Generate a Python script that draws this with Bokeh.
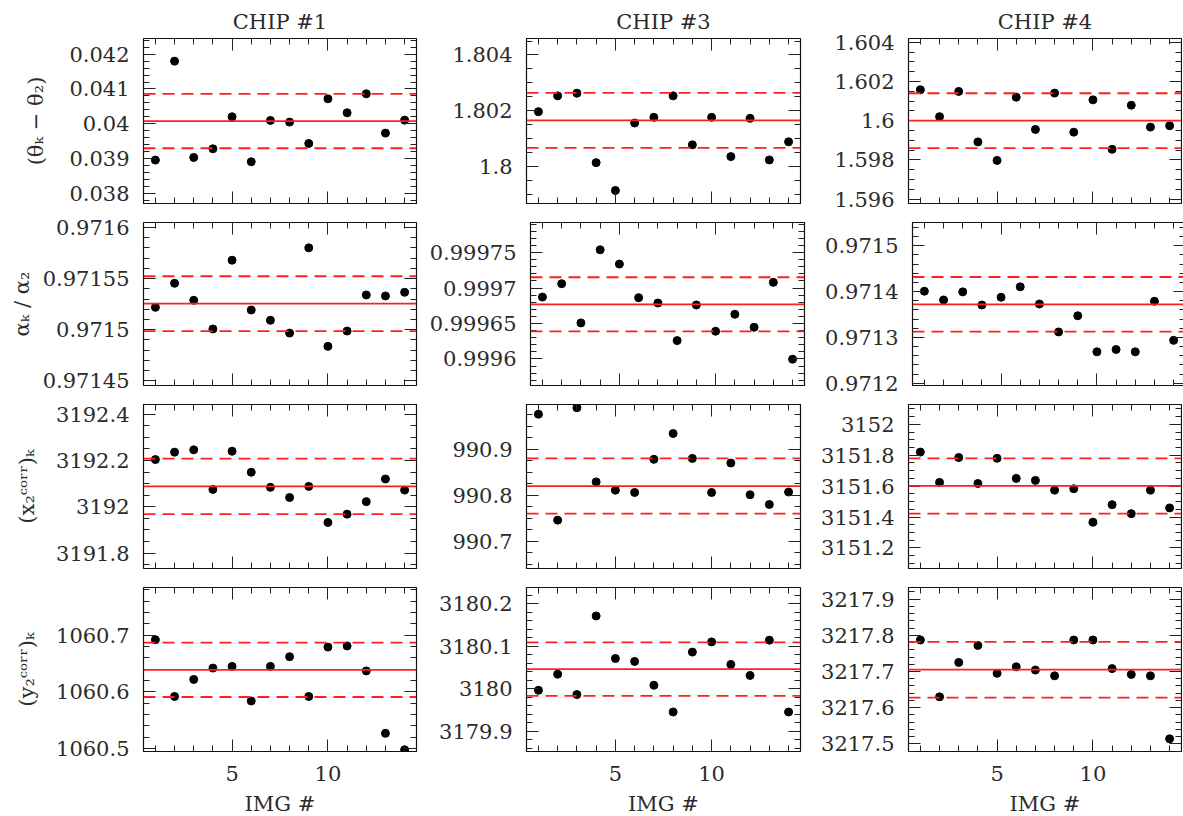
from bokeh.plotting import figure
from bokeh.layouts import column, row
from bokeh.models import (Range1d, Span, SingleIntervalTicker, FixedTicker,
                          CustomJSTickFormatter, LinearAxis)
from bokeh.embed import file_html
from bokeh.resources import INLINE

# ---------------------------------------------------------------- data
img = list(range(1, 15))
chips = ["CHIP #1", "CHIP #3", "CHIP #4"]
quantities = ["(θₖ − θ₂)", "αₖ / α₂", "(x₂ᶜᵒʳʳ)ₖ", "(y₂ᶜᵒʳʳ)ₖ"]

theta_chip1 = [0.038957, 0.041800, 0.039033, 0.039282, 0.040201, 0.038909, 0.040096,
               0.040048, 0.039435, 0.040718, 0.040316, 0.040861, 0.039732, 0.040105]
theta_chip3 = [1.801970, 1.802535, 1.802631, 1.800144, 1.799147, 1.801562, 1.801766,
               1.802535, 1.800781, 1.801766, 1.800360, 1.801730, 1.800240, 1.800889]
theta_chip4 = [1.601578, 1.600206, 1.601492, 1.598919, 1.597976, 1.601201, 1.599554,
               1.601407, 1.599417, 1.601063, 1.598542, 1.600789, 1.599674, 1.599743]

alpha_chip1 = [0.9715219, 0.9715454, 0.9715288, 0.9715007, 0.9715680, 0.9715193, 0.9715092,
               0.9714967, 0.9715801, 0.9714837, 0.9714987, 0.9715340, 0.9715330, 0.9715366]
alpha_chip3 = [0.9996873, 0.9997061, 0.9996508, 0.9997539, 0.9997338, 0.9996864, 0.9996789,
               0.9996259, 0.9996761, 0.9996391, 0.9996630, 0.9996447, 0.9997080, 0.9995997]
alpha_chip4 = [0.9714007, 0.9713816, 0.9713993, 0.9713706, 0.9713875, 0.9714103, 0.9713728,
               0.9713118, 0.9713471, 0.9712684, 0.9712735, 0.9712684, 0.9713787, 0.9712934]

xcorr_chip1 = [3192.204, 3192.236, 3192.246, 3192.075, 3192.240, 3192.149, 3192.084,
               3192.040, 3192.088, 3191.932, 3191.968, 3192.022, 3192.120, 3192.072]
xcorr_chip3 = [990.976, 990.746, 990.990, 990.829, 990.811, 990.806, 990.878,
               990.934, 990.880, 990.806, 990.870, 990.801, 990.780, 990.807]
xcorr_chip4 = [3151.820, 3151.624, 3151.785, 3151.617, 3151.780, 3151.650, 3151.637,
               3151.574, 3151.583, 3151.367, 3151.480, 3151.422, 3151.574, 3151.459]

ycorr_chip1 = [1060.692, 1060.592, 1060.622, 1060.642, 1060.645, 1060.584, 1060.645,
               1060.662, 1060.592, 1060.679, 1060.681, 1060.637, 1060.527, 1060.498]
ycorr_chip3 = [3179.996, 3180.034, 3179.986, 3180.171, 3180.071, 3180.064, 3180.008,
               3179.945, 3180.086, 3180.110, 3180.057, 3180.031, 3180.114, 3179.945]
ycorr_chip4 = [3217.787, 3217.630, 3217.725, 3217.772, 3217.695, 3217.713, 3217.704,
               3217.688, 3217.787, 3217.787, 3217.708, 3217.692, 3217.688, 3217.514]

# clipped mean and 1-sigma band for every chip
theta_mean = [0.040077, 1.801658, 1.600000]
theta_sigma = [0.000780, 0.000985, 0.001400]
alpha_mean = [0.9715255, 0.9996770, 0.9713721]
alpha_sigma = [0.0000268, 0.0000382, 0.0000596]
xcorr_mean = [3192.088, 990.820, 3151.601]
xcorr_sigma = [0.120, 0.060, 0.179]
ycorr_mean = [1060.639, 3180.046, 3217.705]
ycorr_sigma = [0.048, 0.063, 0.077]

series = [
    [theta_chip1, theta_chip3, theta_chip4],
    [alpha_chip1, alpha_chip3, alpha_chip4],
    [xcorr_chip1, xcorr_chip3, xcorr_chip4],
    [ycorr_chip1, ycorr_chip3, ycorr_chip4],
]
means = [theta_mean, alpha_mean, xcorr_mean, ycorr_mean]
sigmas = [theta_sigma, alpha_sigma, xcorr_sigma, ycorr_sigma]

# ---------------------------------------------------------------- axes setup
y_limits = [
    [(0.03771, 0.04245), (1.79868, 1.80459), (1.59578, 1.60419)],
    [(0.9714454, 0.9716049), (0.9995626, 0.9997924), (0.9711949, 0.9715507)],
    [(3191.733, 3192.442), (990.641, 990.997), (3151.067, 3152.128)],
    [(1060.495, 1060.784), (3179.852, 3180.238), (3217.479, 3217.932)],
]
y_steps = [
    [(0.001, 5), (0.002, 4), (0.002, 4)],
    [(0.00005, 5), (0.00005, 5), (0.0001, 5)],
    [(0.2, 4), (0.1, 4), (0.2, 4)],
    [(0.1, 5), (0.1, 5), (0.1, 5)],
]
label_standoff = [18, 6, 14, 14]

col_left = [143, 100, 100]
col_right = [10, 8, 1]
frame_w = [273, 274, 273]
row_top = [38, 7, 7, 7]
row_bottom = [12, 12, 12, 64]
frame_h = [165, 163, 164, 164]

FONT = "DejaVu Serif"
TXT = "#2b2b2b"
RED = "#ff1f1f"

num_fmt = CustomJSTickFormatter(code="return parseFloat(tick.toFixed(6)).toString();")
blank_fmt = CustomJSTickFormatter(code="return '';")


def style_axis(ax, labelled):
    ax.axis_line_color = None
    ax.major_tick_in = 12
    ax.major_tick_out = 0
    ax.minor_tick_in = 6
    ax.minor_tick_out = 0
    ax.major_tick_line_color = "#222222"
    ax.minor_tick_line_color = "#222222"
    ax.major_tick_line_width = 1
    ax.minor_tick_line_width = 1
    if labelled:
        ax.formatter = num_fmt
        ax.major_label_text_font = FONT
        ax.major_label_text_font_size = "21px"
        ax.major_label_text_color = TXT
        ax.major_label_standoff = 14
    else:
        ax.formatter = blank_fmt
        ax.major_label_text_font_size = "1px"
        ax.major_label_standoff = 0


rows = []
for r in range(4):
    figs = []
    for c in range(3):
        lo, hi = y_limits[r][c]
        step, nminor = y_steps[r][c]
        p = figure(
            frame_width=frame_w[c], frame_height=frame_h[r],
            min_border_left=col_left[c], min_border_right=col_right[c],
            min_border_top=row_top[r], min_border_bottom=row_bottom[r],
            x_range=Range1d(0.38, 14.62), y_range=Range1d(lo, hi),
            output_backend="svg", toolbar_location=None, tools="",
        )
        p.grid.visible = False
        p.outline_line_color = "#111111"
        p.outline_line_width = 1.2
        p.background_fill_color = "white"
        p.border_fill_color = "white"

        yt = SingleIntervalTicker(interval=step, num_minor_ticks=nminor)
        xt = FixedTicker(ticks=[0, 5, 10, 15], minor_ticks=img)

        left = p.yaxis[0]
        left.ticker = yt
        style_axis(left, True)
        if c == 0:
            left.axis_label = quantities[r]
            left.axis_label_text_font = FONT
            left.axis_label_text_font_size = "21px"
            left.axis_label_text_font_style = "normal"
            left.axis_label_text_color = TXT
            left.axis_label_standoff = label_standoff[r]

        bottom = p.xaxis[0]
        bottom.ticker = xt
        style_axis(bottom, r == 3)
        if r == 3:
            bottom.axis_label = "IMG #"
            bottom.axis_label_text_font = FONT
            bottom.axis_label_text_font_size = "21px"
            bottom.axis_label_text_font_style = "normal"
            bottom.axis_label_text_color = TXT
            bottom.axis_label_standoff = 8

        right = LinearAxis(ticker=yt)
        style_axis(right, False)
        p.add_layout(right, "right")
        top = LinearAxis(ticker=xt)
        style_axis(top, False)
        p.add_layout(top, "above")

        if r == 0:
            p.title.text = chips[c]
            p.title.align = "center"
            p.title.text_font = FONT
            p.title.text_font_size = "21px"
            p.title.text_font_style = "normal"
            p.title.text_color = TXT

        m = means[r][c]
        s = sigmas[r][c]
        p.add_layout(Span(location=m, dimension="width", line_color=RED, line_width=1.8))
        p.add_layout(Span(location=m + s, dimension="width", line_color=RED,
                          line_width=1.8, line_dash="12 7"))
        p.add_layout(Span(location=m - s, dimension="width", line_color=RED,
                          line_width=1.8, line_dash="12 7"))

        p.scatter(img, series[r][c], size=8, color="black")
        figs.append(p)
    rows.append(row(*figs))

layout = column(*rows)
open("out.html", "w").write(file_html(layout, INLINE))
